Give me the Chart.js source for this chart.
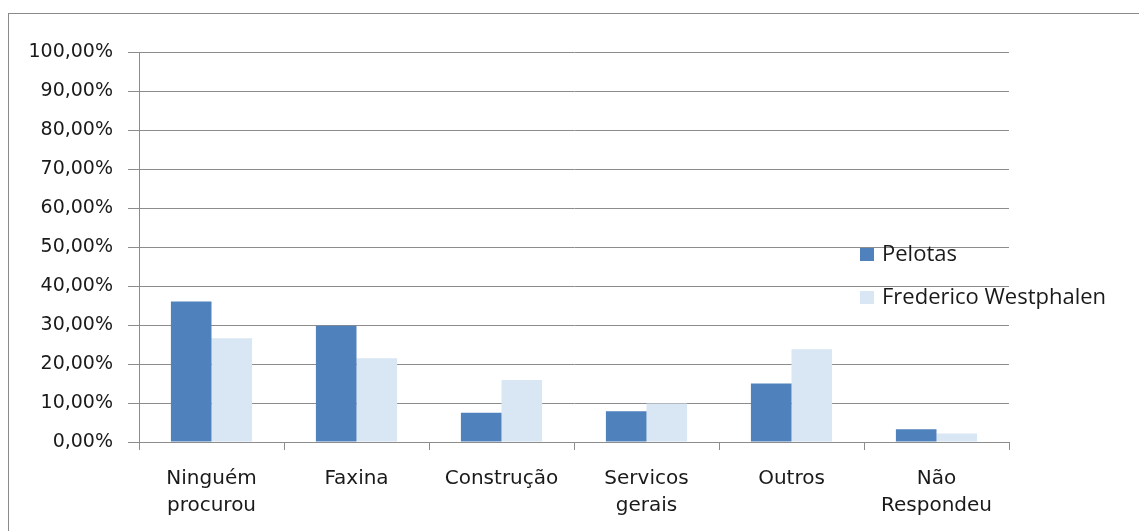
<!DOCTYPE html>
<html>
<head>
<meta charset="utf-8">
<script src="https://cdn.jsdelivr.net/npm/chart.js@4"></script>
<style>
  html, body { margin: 0; padding: 0; background: #fff; }
  #wrap { position: relative; width: 1139px; height: 531px; overflow: hidden; }
  #frame { position: absolute; left: 8px; top: 13px; width: 1200px; height: 600px; border: 1px solid #8a8a8a; }
  canvas { position: absolute; left: 0; top: 0; }
</style>
</head>
<body>
<div id="wrap">
  <div id="frame"></div>
  <canvas id="chart" width="1139" height="531"></canvas>
</div>
<script>
// categorias (eixo x)
var categorias = [['Ninguém', 'procurou'], 'Faxina', 'Construção', ['Servicos', 'gerais'], 'Outros', ['Não', 'Respondeu']];
// valores em %
var pelotas = [36.0, 29.8, 7.5, 7.9, 15.0, 3.3];
var fredericoWestphalen = [26.6, 21.5, 15.9, 9.9, 23.8, 2.2];
var nomesSeries = ['Pelotas', 'Frederico Westphalen'];
var coresSeries = ['#4f81bd', '#d9e6f4'];

var corGrade = '#8c8c8c';

// legenda desenhada por cima da área do gráfico
var legendaPlugin = {
    id: 'legendaManual',
    afterDraw: function(chart) {
        var ctx = chart.ctx;
        var ys = [255, 298];
        ctx.save();
        ctx.font = '22px "Open Sans"';
        ctx.textBaseline = 'middle';
        chart.data.datasets.forEach(function(ds, i) {
            ctx.fillStyle = ds.backgroundColor;
            ctx.fillRect(860, ys[i] - 7, 14, 13);
            ctx.fillStyle = '#1a1a1a';
            ctx.fillText(ds.label, 882, ys[i]);
        });
        ctx.restore();
    }
};

var ctx = document.getElementById('chart').getContext('2d');
var grafico = new Chart(ctx, {
    type: 'bar',
    data: {
        labels: categorias,
        datasets: [
            { label: nomesSeries[0], data: pelotas, backgroundColor: coresSeries[0] },
            { label: nomesSeries[1], data: fredericoWestphalen, backgroundColor: coresSeries[1] }
        ]
    },
    options: {
        responsive: false,
        animation: false,
        layout: { padding: { top: 52, right: 130, left: 0, bottom: 0 } },
        datasets: {
            bar: { categoryPercentage: 0.56, barPercentage: 1.0 }
        },
        scales: {
            x: {
                afterFit: function(scale) { scale.height = 89; },
                grid: {
                    drawOnChartArea: false,
                    drawTicks: true,
                    tickLength: 8,
                    color: corGrade,
                    offset: true
                },
                border: { display: true, color: corGrade },
                ticks: {
                    color: '#1a1a1a',
                    font: { family: 'DejaVu Sans', size: 20, lineHeight: 1.35 },
                    padding: 15,
                    maxRotation: 0,
                    autoSkip: false
                }
            },
            y: {
                min: 0,
                max: 100,
                afterFit: function(scale) { scale.width = 139; },
                grid: {
                    color: corGrade,
                    tickLength: 11
                },
                border: { display: true, color: corGrade },
                ticks: {
                    stepSize: 10,
                    color: '#1a1a1a',
                    font: { family: 'DejaVu Sans', size: 19 },
                    padding: 15,
                    callback: function(valor) {
                        return valor.toFixed(2).replace('.', ',') + '%';
                    }
                }
            }
        },
        plugins: {
            legend: { display: false },
            tooltip: { enabled: false }
        }
    },
    plugins: [legendaPlugin]
});
</script>
</body>
</html>
